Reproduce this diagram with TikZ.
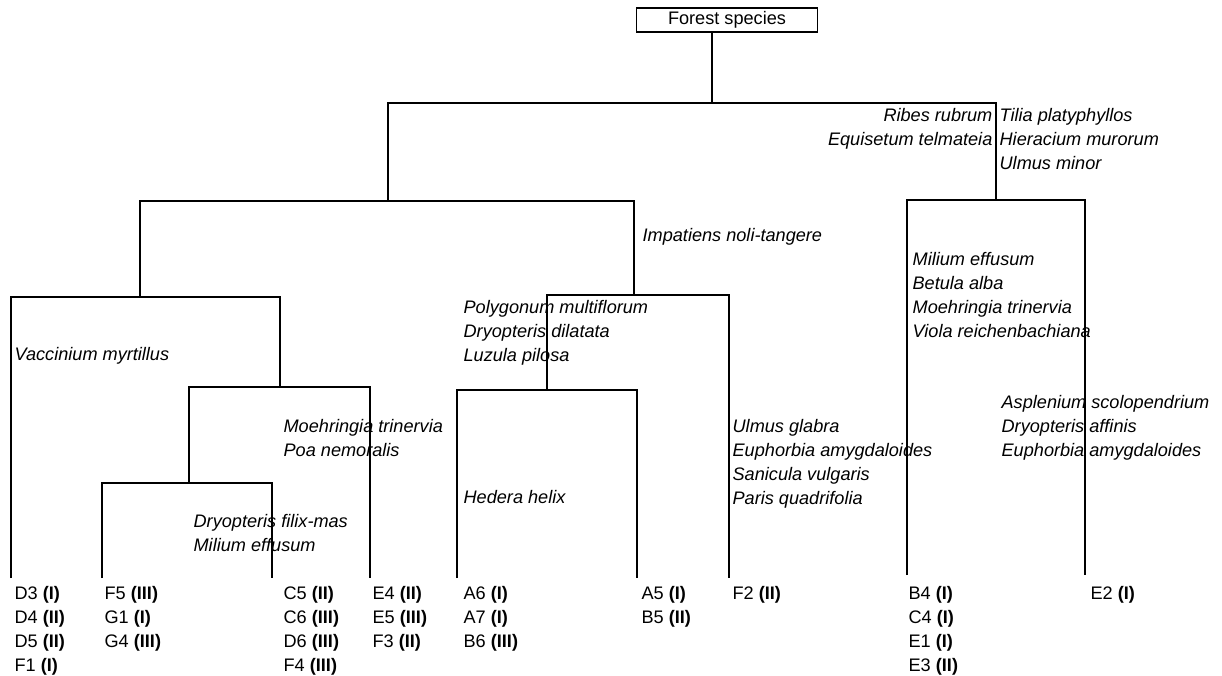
\documentclass[tikz,border=0pt]{standalone}
\usepackage{fontspec}
\setmainfont{Liberation Sans}
\newcommand{\dendfont}{\fontsize{12.9}{17.07}\selectfont}

\begin{document}
\begin{tikzpicture}[
    x=0.025cm, y=-0.025cm,
    line width=0.9pt,
    title/.style={rectangle, draw, minimum width=4.525cm, minimum height=0.6cm, inner sep=0pt, font=\dendfont},
    species/.style={anchor=north west, inner sep=0pt, align=left, font=\dendfont\itshape},
    site/.style={anchor=north west, inner sep=0pt, align=left, font=\dendfont}
]
\useasboundingbox (0,0) rectangle (1222,676);

% Root
\node[title] (root) at (727,20) {Forest species};
\coordinate (n0) at (712,103);

% Junctions
\coordinate (nA) at (388,201);
\coordinate (nB) at (996,200);
\coordinate (nC) at (140,297);
\coordinate (nD) at (634,295);
\coordinate (nE) at (280,387);
\coordinate (nF) at (189,483);
\coordinate (nG) at (547,390);

% Leaf tips
\coordinate (tD3) at (11,578);
\coordinate (tF5) at (102,578);
\coordinate (tC5) at (272,578);
\coordinate (tE4) at (370,578);
\coordinate (tA6) at (457,578);
\coordinate (tA5) at (637,578);
\coordinate (tF2) at (729,578);
\coordinate (tB4) at (907,575);
\coordinate (tE2) at (1085,575);

% Branches
\draw (root.south -| n0) -- (n0);
\draw (nA) |- (nB |- n0) -- (nB);
\draw (nC) |- (nD |- nA) -- (nD);
\draw (tD3) |- (nE |- nC) -- (nE);
\draw (nF) |- (tE4 |- nE) -- (tE4);
\draw (tF5) |- (tC5 |- nF) -- (tC5);
\draw (nG) |- (tF2 |- nD) -- (tF2);
\draw (tA6) |- (tA5 |- nG) -- (tA5);
\draw (tB4) |- (tE2 |- nB) -- (tE2);

% Species
\node[species, align=right, anchor=north east] (ribes) at (993,104) {\strut Ribes rubrum\\Equisetum telmateia};
\node[species] (tilia) at (999,104) {\strut Tilia platyphyllos\\Hieracium murorum\\Ulmus minor};
\node[species] (impatiens) at (642,224) {\strut Impatiens noli-tangere};
\node[species] (vaccinium) at (14,343) {\strut Vaccinium myrtillus};
\node[species] (moehringia) at (283,415) {\strut Moehringia trinervia\\Poa nemoralis};
\node[species] (dryopteris) at (193,510) {\strut Dryopteris filix-mas\\Milium effusum};
\node[species] (polygonum) at (463,296) {\strut Polygonum multiflorum\\Dryopteris dilatata\\Luzula pilosa};
\node[species] (hedera) at (463,486) {\strut Hedera helix};
\node[species] (ulmus) at (732,415) {\strut Ulmus glabra\\Euphorbia amygdaloides\\Sanicula vulgaris\\Paris quadrifolia};
\node[species] (milium) at (912,248) {\strut Milium effusum\\Betula alba\\Moehringia trinervia\\Viola reichenbachiana};
\node[species] (asplenium) at (1001,391) {\strut Asplenium scolopendrium\\Dryopteris affinis\\Euphorbia amygdaloides};

% Sites
\node[site] (sD3) at (14,582) {\strut D3 \textbf{(I)}\\D4 \textbf{(II)}\\D5 \textbf{(II)}\\F1 \textbf{(I)}};
\node[site] (sF5) at (104,582) {\strut F5 \textbf{(III)}\\G1 \textbf{(I)}\\G4 \textbf{(III)}};
\node[site] (sC5) at (283,582) {\strut C5 \textbf{(II)}\\C6 \textbf{(III)}\\D6 \textbf{(III)}\\F4 \textbf{(III)}};
\node[site] (sE4) at (372,582) {\strut E4 \textbf{(II)}\\E5 \textbf{(III)}\\F3 \textbf{(II)}};
\node[site] (sA6) at (463,582) {\strut A6 \textbf{(I)}\\A7 \textbf{(I)}\\B6 \textbf{(III)}};
\node[site] (sA5) at (641,582) {\strut A5 \textbf{(I)}\\B5 \textbf{(II)}};
\node[site] (sF2) at (732,582) {\strut F2 \textbf{(II)}};
\node[site] (sB4) at (908,582) {\strut B4 \textbf{(I)}\\C4 \textbf{(I)}\\E1 \textbf{(I)}\\E3 \textbf{(II)}};
\node[site] (sE2) at (1090,582) {\strut E2 \textbf{(I)}};

\end{tikzpicture}
\end{document}
